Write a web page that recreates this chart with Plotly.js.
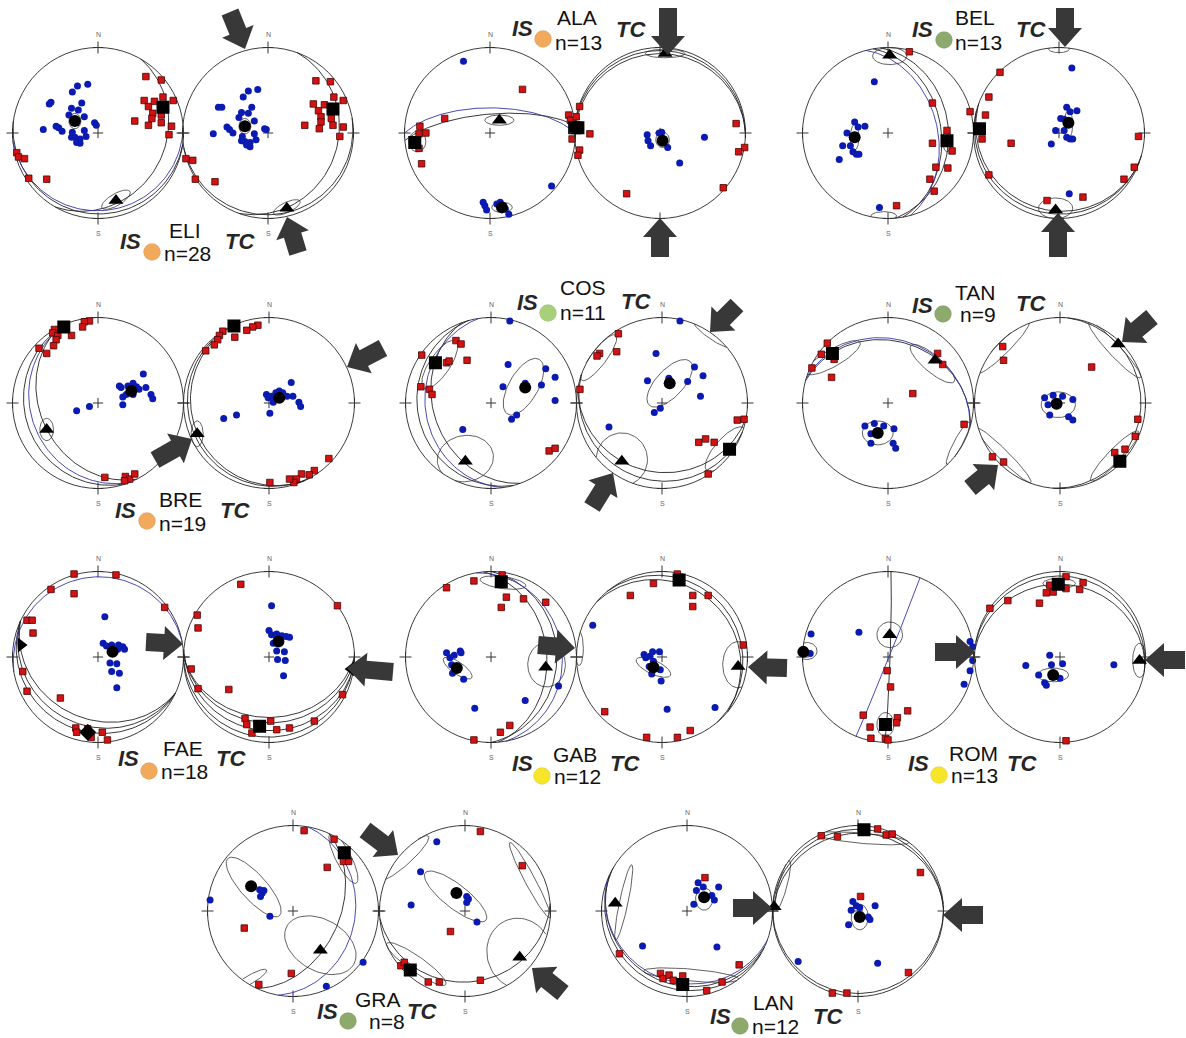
<!DOCTYPE html>
<html><head><meta charset="utf-8">
<script src="https://cdn.plot.ly/plotly-3.0.1.min.js"></script>
<style>html,body{margin:0;padding:0;background:#fff}#chart{width:1186px;height:1038px}</style>
</head><body><div id="chart"></div>
<script>
// ---------------- DATA (normalised stereonet coordinates, x=East, y=North, primitive radius = 1) ----------------
const sites=['ELI','ALA','BEL','BRE','COS','TAN','FAE','GAB','ROM','GRA','LAN'];
const siteN=[28,13,13,19,11,9,18,12,13,8,12];
const siteColor=['#F3A95B','#F3A95B','#8DAA6C','#F3A95B','#A8CF7A','#8DAA6C','#F3A95B','#F7E52A','#F7E52A','#8DAA6C','#8DAA6C'];

// K1 axes (blue dots), K3 axes (red squares), mean axes [kind,x,y], ellipses [x,y,a,b,angle], planes [dipdir,dip,colour]
const ELI_IS_dots=[[-0.12,0.57],[-0.24,0.55],[-0.30,0.48],[-0.55,0.36],[-0.57,0.34],[-0.19,0.35],[-0.23,0.27],[-0.31,0.29],[-0.34,0.21],[-0.16,0.19],[-0.49,0.08],[-0.46,0.06],[-0.42,0.02],[-0.64,0.04],[-0.04,0.12],[-0.02,0.09],[-0.16,0.03],[-0.31,-0.05],[-0.27,-0.05],[-0.21,-0.07],[-0.14,-0.04],[-0.25,-0.11],[-0.21,-0.12],[-0.30,0.01]];
const ELI_IS_squares=[[0.56,0.66],[0.74,0.62],[0.54,0.38],[0.59,0.31],[0.66,0.37],[0.88,0.38],[0.76,0.42],[0.64,0.23],[0.74,0.21],[0.63,0.17],[0.43,0.14],[0.59,0.09],[0.74,0.12],[0.86,0.08],[0.83,-0.02],[-0.95,-0.23],[-0.93,-0.28],[-0.86,-0.30],[-0.81,-0.53],[-0.60,-0.54]];
const ELI_IS_axes=[['c',-0.27,0.14],['s',0.76,0.30],['t',0.21,-0.79]];
const ELI_IS_ellipses=[[-0.27,0.14,0.07,0.09,0],[0.21,-0.78,0.19,0.07,30]];
const ELI_IS_planes=[[120,22,'k'],[175,10,'b'],[188,6,'k']];

const ELI_TC_dots=[[-0.12,0.51],[-0.23,0.49],[-0.29,0.42],[-0.54,0.30],[-0.58,0.30],[-0.19,0.30],[-0.23,0.23],[-0.31,0.24],[-0.34,0.18],[-0.16,0.14],[-0.48,0.07],[-0.45,0.04],[-0.41,0.00],[-0.64,-0.01],[-0.04,0.05],[-0.02,0.04],[-0.16,-0.01],[-0.31,-0.09],[-0.27,-0.10],[-0.21,-0.11],[-0.14,-0.08],[-0.25,-0.14],[-0.21,-0.16],[-0.30,-0.04]];
const ELI_TC_squares=[[0.56,0.61],[0.73,0.60],[0.53,0.34],[0.59,0.26],[0.66,0.33],[0.88,0.38],[0.77,0.42],[0.62,0.19],[0.74,0.17],[0.62,0.13],[0.43,0.09],[0.60,0.05],[0.76,0.09],[0.88,0.07],[0.84,-0.04],[-0.96,-0.30],[-0.88,-0.32],[-0.85,-0.54],[-0.62,-0.57]];
const ELI_TC_axes=[['c',-0.27,0.08],['s',0.76,0.28],['t',0.22,-0.88]];
const ELI_TC_ellipses=[[-0.27,0.08,0.07,0.09,0],[0.22,-0.87,0.17,0.06,25]];
const ELI_TC_planes=[[110,19,'k'],[170,5,'k']];

const ALA_IS_dots=[[-0.31,0.84],[0.72,-0.62],[-0.08,-0.81],[-0.06,-0.85],[-0.04,-0.90],[0.08,-0.83],[0.12,-0.81],[0.18,-0.89],[0.22,-0.95]];
const ALA_IS_squares=[[0.38,0.51],[-0.53,0.17],[-0.82,0.08],[-0.83,-0.01],[-0.75,0.0],[-0.86,-0.09],[-0.83,-0.18],[-0.80,-0.36],[0.92,0.21],[0.96,-0.07],[0.94,0.15]];
const ALA_IS_axes=[['c',0.14,-0.87],['s',-0.88,-0.11],['s',0.99,0.06],['t',0.11,0.15]];
const ALA_IS_ellipses=[[0.14,-0.87,0.12,0.06,0],[-0.85,-0.10,0.10,0.12,0],[0.11,0.15,0.17,0.06,0]];
const ALA_IS_planes=[[355,72,'k'],[0,66,'b']];

const ALA_TC_dots=[[-0.15,-0.02],[-0.14,-0.09],[-0.11,-0.15],[-0.01,0.0],[0.02,0.01],[0.09,-0.17],[0.23,-0.35],[0.52,-0.05]];
const ALA_TC_squares=[[-0.94,0.31],[-0.98,0.19],[-0.94,-0.20],[-0.96,-0.26],[-0.82,-0.01],[0.89,0.11],[0.99,-0.17],[0.92,-0.22],[0.74,-0.64],[-0.39,-0.71]];
const ALA_TC_axes=[['c',0.03,-0.09],['s',-0.96,0.06],['t',0.06,0.93]];
const ALA_TC_ellipses=[[0.03,-0.08,0.08,0.09,0],[0.06,0.93,0.23,0.05,0]];
const ALA_TC_planes=[[0,8,'k'],[3,4,'k']];

const BEL_IS_dots=[[-0.16,0.60],[-0.39,0.13],[-0.35,0.07],[-0.27,0.08],[-0.48,0.0],[-0.53,-0.15],[-0.44,-0.15],[-0.41,-0.22],[-0.37,-0.25],[-0.34,-0.25],[-0.57,-0.31],[-0.10,-0.87]];
const BEL_IS_squares=[[0.25,0.95],[0.52,0.35],[0.69,0.03],[0.52,-0.12],[0.75,-0.21],[0.56,-0.40],[0.70,-0.41],[0.49,-0.54],[0.54,-0.68],[0.10,-0.85],[0.96,0.25]];
const BEL_IS_axes=[['c',-0.39,-0.05],['s',0.69,-0.09],['t',0.02,0.91]];
const BEL_IS_ellipses=[[-0.39,-0.05,0.05,0.15,0],[0.69,-0.09,0.05,0.13,0],[0.02,0.90,0.20,0.10,0],[-0.05,-0.97,0.15,0.05,0]];
const BEL_IS_planes=[[80,38,'k'],[85,30,'k'],[75,42,'b']];

const BEL_TC_dots=[[0.15,0.76],[0.09,0.30],[0.13,0.25],[0.21,0.26],[0.02,0.17],[0.06,0.16],[-0.04,0.03],[0.06,0.03],[0.09,-0.05],[0.13,-0.07],[0.16,-0.07],[-0.09,-0.13],[0.12,-0.71]];
const BEL_TC_squares=[[-0.69,0.71],[-0.82,0.42],[-0.86,0.21],[-0.90,-0.07],[-0.82,-0.49],[-0.56,-0.12],[0.93,-0.04],[0.88,-0.40],[0.76,-0.54],[0.28,-0.75],[-0.14,-0.79]];
const BEL_TC_axes=[['c',0.11,0.12],['s',-0.93,0.05],['t',-0.04,-0.90]];
const BEL_TC_ellipses=[[0.11,0.10,0.05,0.16,0],[-0.04,-0.88,0.20,0.12,0],[0.0,0.98,0.12,0.04,0]];
const BEL_TC_planes=[[200,10,'k'],[195,6,'k']];

const BRE_IS_dots=[[0.53,0.34],[0.25,0.20],[0.27,0.18],[0.35,0.20],[0.41,0.23],[0.45,0.19],[0.48,0.16],[0.56,0.18],[0.33,0.10],[0.29,0.07],[0.41,0.10],[0.62,0.10],[0.64,0.05],[0.29,-0.02],[-0.10,-0.04],[-0.25,-0.09]];
const BRE_IS_squares=[[-0.10,0.96],[-0.16,0.95],[-0.18,0.89],[-0.31,0.79],[-0.51,0.86],[-0.53,0.82],[-0.47,0.79],[-0.49,0.74],[-0.52,0.67],[-0.69,0.64],[-0.60,0.58],[0.08,-0.87],[0.32,-0.86],[0.37,-0.89],[0.43,-0.83],[0.31,-0.91]];
const BRE_IS_axes=[['c',0.39,0.14],['s',-0.40,0.89],['t',-0.60,-0.31]];
const BRE_IS_ellipses=[[0.39,0.14,0.04,0.05,0],[-0.60,-0.31,0.08,0.13,0]];
const BRE_IS_planes=[[243,33,'k'],[248,22,'b'],[250,15,'k']];

const BRE_TC_dots=[[0.26,0.24],[-0.03,0.10],[-0.01,0.06],[0.03,0.08],[0.08,0.12],[0.12,0.14],[0.16,0.12],[0.21,0.08],[0.28,0.08],[0.05,0.01],[0.11,0.04],[0.35,0.01],[0.37,-0.04],[0.01,-0.12],[-0.38,-0.14],[-0.53,-0.18]];
const BRE_TC_squares=[[-0.13,0.91],[-0.19,0.89],[-0.26,0.85],[-0.40,0.77],[-0.54,0.84],[-0.58,0.79],[-0.60,0.74],[-0.64,0.68],[-0.74,0.61],[0.70,-0.65],[0.53,-0.79],[0.47,-0.84],[0.38,-0.83],[0.32,-0.89],[0.29,-0.93],[0.24,-0.89],[0.01,-0.93]];
const BRE_TC_axes=[['c',0.12,0.06],['s',-0.41,0.90],['t',-0.84,-0.36]];
const BRE_TC_ellipses=[[0.12,0.06,0.04,0.05,0],[-0.84,-0.36,0.07,0.15,0]];
const BRE_TC_planes=[[245,10,'k'],[240,6,'k']];

const COS_IS_dots=[[0.22,0.96],[0.20,0.45],[0.14,0.19],[0.64,0.40],[0.75,0.30],[0.59,0.21],[0.75,0.03],[0.24,-0.19],[0.30,-0.14],[-0.33,-0.31],[0.40,0.23]];
const COS_IS_squares=[[-0.81,0.56],[-0.41,0.73],[-0.35,0.69],[-0.52,0.47],[-0.49,0.49],[-0.28,0.50],[-0.82,0.19],[-0.72,0.16],[-0.69,0.10],[0.68,-0.56],[0.75,-0.53]];
const COS_IS_axes=[['c',0.40,0.18],['s',-0.65,0.47],['t',-0.30,-0.68]];
const COS_IS_ellipses=[[0.38,0.19,0.37,0.17,60],[-0.60,0.45,0.33,0.12,56],[-0.30,-0.65,0.33,0.27,10]];
const COS_IS_planes=[[250,33,'k'],[262,24,'b'],[255,15,'k']];

const COS_TC_dots=[[0.21,0.96],[-0.07,0.58],[-0.17,0.26],[0.38,0.42],[0.48,0.32],[0.30,0.25],[0.45,0.08],[-0.02,-0.06],[-0.09,-0.11],[-0.62,-0.28],[0.08,0.29]];
const COS_TC_squares=[[-0.51,0.81],[-0.73,0.58],[-0.76,0.55],[-0.53,0.60],[-0.96,0.16],[0.88,-0.20],[0.96,-0.19],[0.43,-0.46],[0.51,-0.42],[0.61,-0.46],[0.54,-0.83]];
const COS_TC_axes=[['c',0.09,0.23],['s',0.79,-0.54],['t',-0.47,-0.68]];
const COS_TC_ellipses=[[0.09,0.23,0.35,0.16,47],[0.74,-0.54,0.33,0.12,49],[-0.74,0.53,0.33,0.09,53],[-0.47,-0.66,0.30,0.31,0],[0.58,0.80,0.25,0.05,-35]];
const COS_TC_planes=[[190,20,'k'],[200,10,'k']];

const TAN_IS_dots=[[-0.27,-0.27],[-0.16,-0.24],[-0.05,-0.27],[0.07,-0.30],[-0.20,-0.36],[-0.20,-0.47],[0.06,-0.47],[0.09,-0.53]];
const TAN_IS_squares=[[-0.71,0.70],[-0.78,0.57],[-0.63,0.51],[-0.89,0.41],[-0.66,0.30],[0.58,0.58],[0.64,0.45],[0.29,0.11],[0.89,-0.25]];
const TAN_IS_axes=[['c',-0.12,-0.35],['s',-0.65,0.58],['t',0.55,0.50]];
const TAN_IS_ellipses=[[-0.12,-0.35,0.18,0.14,0],[-0.64,0.53,0.36,0.10,30],[0.52,0.46,0.33,0.10,-40],[0.82,-0.47,0.28,0.05,62]];
const TAN_IS_planes=[[15,28,'k'],[17,26,'b']];

const TAN_TC_dots=[[-0.18,0.06],[-0.08,0.09],[0.03,0.08],[0.15,0.04],[-0.14,-0.02],[-0.12,-0.14],[0.10,-0.16],[0.15,-0.20]];
const TAN_TC_squares=[[-0.67,0.66],[-0.66,0.50],[0.37,0.42],[0.91,-0.19],[0.88,-0.39],[0.76,-0.54],[0.64,-0.58],[-0.79,-0.63],[-0.66,-0.69]];
const TAN_TC_axes=[['c',-0.04,-0.01],['s',0.70,-0.68],['t',0.68,0.69]];
const TAN_TC_ellipses=[[-0.02,-0.02,0.20,0.15,0],[0.64,-0.62,0.40,0.08,46],[0.64,0.62,0.44,0.07,-47],[-0.66,0.65,0.42,0.07,45],[-0.66,-0.61,0.45,0.06,-45]];
const TAN_TC_planes=[[95,6,'k']];

const FAE_IS_dots=[[0.08,0.47],[0.06,0.16],[0.10,0.13],[0.16,0.14],[0.24,0.14],[0.29,0.12],[0.31,0.09],[0.23,0.09],[0.14,-0.07],[0.22,-0.08],[0.16,-0.17],[0.25,-0.19],[0.22,-0.36]];
const FAE_IS_squares=[[-0.28,0.97],[0.21,0.96],[-0.55,0.79],[-0.28,0.74],[0.78,0.58],[-0.83,0.43],[-0.77,0.43],[-0.76,0.28],[-0.88,-0.17],[-0.83,-0.40],[-0.44,-0.48],[-0.26,-0.83],[-0.25,-0.88],[-0.12,-0.84],[-0.08,-0.94],[0.05,-0.88],[0.11,-0.97]];
const FAE_IS_axes=[['c',0.17,0.06],['d',-0.12,-0.88],['tr',-0.90,0.14]];
const FAE_IS_ellipses=[[0.17,0.06,0.04,0.05,0]];
const FAE_IS_planes=[[205,28,'k'],[205,20,'k'],[205,13,'k'],[350,7,'b']];

const FAE_TC_dots=[[0.03,0.60],[0.0,0.31],[0.03,0.26],[0.09,0.27],[0.15,0.25],[0.20,0.24],[0.24,0.23],[0.05,0.16],[0.09,0.07],[0.18,0.06],[0.10,-0.03],[0.19,-0.04],[0.17,-0.22]];
const FAE_TC_squares=[[-0.33,0.85],[0.80,0.60],[-0.84,0.49],[-0.83,0.34],[-0.91,-0.14],[-0.83,-0.37],[-0.47,-0.38],[0.86,-0.44],[0.53,-0.75],[-0.28,-0.72],[-0.26,-0.79],[-0.20,-0.89],[0.02,-0.75],[0.09,-0.85],[0.24,-0.83]];
const FAE_TC_axes=[['c',0.11,0.18],['s',-0.11,-0.81],['tl',0.96,-0.14]];
const FAE_TC_ellipses=[[0.11,0.18,0.04,0.05,0]];
const FAE_TC_planes=[[180,30,'k'],[182,24,'k'],[185,15,'k'],[178,7,'k']];

const GAB_IS_dots=[[-0.52,0.05],[-0.48,-0.01],[-0.43,0.02],[-0.36,0.07],[-0.35,0.05],[-0.46,-0.09],[-0.45,-0.19],[-0.32,-0.26],[-0.19,-0.60],[0.40,-0.51],[0.79,-0.34],[-0.39,-0.15]];
const GAB_IS_squares=[[-0.52,0.81],[-0.20,0.89],[0.13,0.96],[0.18,0.70],[0.12,0.58],[0.38,0.68],[0.64,0.64],[0.22,-0.80],[0.11,-0.88],[-0.20,-0.97]];
const GAB_IS_axes=[['c',-0.40,-0.13],['s',0.12,0.88],['t',0.64,-0.12]];
const GAB_IS_ellipses=[[-0.39,-0.13,0.20,0.07,-35],[0.14,0.87,0.27,0.07,-8],[0.65,-0.09,0.22,0.26,0]];
const GAB_IS_planes=[[85,35,'k'],[90,24,'k'],[80,18,'b']];

const GAB_TC_dots=[[-0.81,0.37],[-0.21,0.03],[-0.19,-0.01],[-0.14,0.01],[-0.11,0.06],[-0.03,0.06],[-0.10,-0.05],[-0.15,-0.11],[-0.12,-0.20],[-0.02,-0.15],[-0.01,-0.28],[0.06,-0.61],[0.62,-0.59]];
const GAB_TC_squares=[[-0.10,0.86],[-0.37,0.72],[0.36,0.72],[0.54,0.72],[0.36,0.59],[0.18,0.97],[0.95,0.14],[-0.67,-0.64],[-0.18,-0.94],[0.18,-0.94],[0.33,-0.86]];
const GAB_TC_axes=[['c',-0.10,-0.12],['s',0.20,0.90],['t',0.89,-0.11]];
const GAB_TC_ellipses=[[-0.10,-0.12,0.22,0.08,-25],[0.89,-0.09,0.18,0.27,0],[-0.97,0.10,0.05,0.20,0]];
const GAB_TC_planes=[[40,14,'k'],[50,8,'k']];

const ROM_IS_dots=[[-0.34,0.29],[-0.90,0.27],[-0.91,0.04],[0.96,0.18],[0.99,0.12],[0.99,-0.04],[0.96,-0.16],[0.89,-0.32]];
const ROM_IS_squares=[[-0.01,-0.16],[0.03,-0.35],[-0.29,-0.68],[0.23,-0.63],[-0.21,-0.82],[0.11,-0.71],[0.10,-0.77],[-0.20,-0.95],[-0.03,-0.95],[0.0,-0.97]];
const ROM_IS_axes=[['c',-0.99,0.06],['s',-0.03,-0.79],['t',0.02,0.26]];
const ROM_IS_ellipses=[[-0.95,0.07,0.12,0.10,0],[-0.03,-0.79,0.10,0.14,0],[0.02,0.26,0.15,0.15,0]];
const ROM_IS_planes=[[92,88,'k'],[112,89,'b']];

const ROM_TC_dots=[[-0.12,0.02],[-0.40,-0.10],[-0.10,-0.09],[0.03,-0.08],[-0.25,-0.21],[-0.18,-0.30],[-0.16,-0.33],[-0.08,-0.23],[0.0,-0.25],[0.63,-0.09]];
const ROM_TC_squares=[[0.07,0.94],[0.27,0.87],[0.23,0.79],[0.07,0.80],[-0.08,0.76],[-0.16,0.75],[-0.12,0.84],[-0.24,0.63],[-0.61,0.66],[-0.82,0.57],[0.07,-0.98]];
const ROM_TC_axes=[['c',-0.08,-0.21],['s',-0.02,0.85],['t',0.93,-0.04]];
const ROM_TC_ellipses=[[-0.08,-0.21,0.18,0.08,0],[-0.01,0.86,0.19,0.06,0],[0.93,-0.04,0.08,0.20,0]];
const ROM_TC_planes=[[5,16,'k'],[10,6,'k']];

const GRA_IS_dots=[[-0.97,0.13],[-0.39,0.25],[-0.36,0.21],[-0.34,0.24],[-0.38,0.17],[-0.27,-0.06],[0.82,-0.60],[0.39,-0.88]];
const GRA_IS_squares=[[0.13,0.94],[0.48,0.84],[0.59,0.58],[0.65,0.58],[0.40,0.51],[-0.57,-0.20],[-0.02,-0.73],[-0.40,-0.86]];
const GRA_IS_axes=[['c',-0.49,0.29],['s',0.60,0.68],['t',0.32,-0.46]];
const GRA_IS_ellipses=[[-0.46,0.28,0.45,0.15,-48],[0.59,0.62,0.33,0.09,-63],[0.32,-0.40,0.45,0.30,-30],[-0.50,-0.80,0.22,0.05,30]];
const GRA_IS_planes=[[115,45,'k'],[100,28,'b']];

const GRA_TC_dots=[[-0.33,0.81],[-0.52,0.46],[-0.63,0.07],[0.02,0.17],[0.04,0.14],[0.02,0.10],[0.14,-0.13]];
const GRA_TC_squares=[[0.18,0.93],[0.67,0.53],[-0.17,-0.24],[-0.75,-0.64],[-0.71,-0.60],[-0.43,-0.83],[-0.30,-0.83],[0.18,-0.81]];
const GRA_TC_axes=[['c',-0.10,0.21],['s',-0.64,-0.69],['t',0.64,-0.54]];
const GRA_TC_ellipses=[[-0.11,0.17,0.45,0.14,-38],[-0.57,-0.62,0.42,0.09,-35],[0.64,-0.50,0.38,0.42,20],[-0.71,0.62,0.38,0.08,42],[0.76,0.36,0.50,0.06,-62]];
const GRA_TC_planes=[[175,18,'k']];

const LAN_IS_dots=[[0.13,0.33],[0.19,0.28],[0.11,0.24],[0.37,0.28],[0.29,0.18],[0.32,0.13],[0.08,0.08],[-0.52,-0.41],[0.35,-0.42]];
const LAN_IS_squares=[[0.21,0.39],[-0.79,-0.50],[0.61,-0.63],[-0.31,-0.73],[-0.28,-0.79],[-0.21,-0.75],[-0.16,-0.81],[-0.05,-0.76],[0.41,-0.83],[0.23,-0.93]];
const LAN_IS_axes=[['c',0.20,0.16],['s',-0.05,-0.86],['t',-0.84,0.09]];
const LAN_IS_ellipses=[[0.20,0.14,0.10,0.13,0],[0.05,-0.75,0.56,0.07,-5],[-0.74,0.10,0.45,0.05,78]];
const LAN_IS_planes=[[205,14,'k'],[210,9,'k'],[200,17,'b']];

const LAN_TC_dots=[[-0.06,0.11],[-0.02,0.06],[-0.08,0.01],[0.02,0.04],[0.20,0.06],[0.12,-0.07],[0.14,-0.10],[-0.11,-0.16],[-0.70,-0.59],[0.23,-0.61]];
const LAN_TC_squares=[[0.03,0.17],[-0.43,0.88],[-0.24,0.87],[0.23,0.96],[0.33,0.89],[0.40,0.90],[0.73,0.45],[0.59,-0.72],[-0.30,-0.96],[-0.13,-0.96]];
const LAN_TC_axes=[['c',0.02,-0.07],['s',0.07,0.95],['t',-0.98,0.05]];
const LAN_TC_ellipses=[[0.02,-0.07,0.10,0.15,0],[0.06,0.85,0.54,0.06,-5],[-0.88,0.30,0.30,0.05,75]];
const LAN_TC_planes=[[355,10,'k'],[0,5,'k'],[180,4,'k']];

// ---------------- LAYOUT TABLES (pixel positions) ----------------
const W=1186,H=1038,R=85.5,PAD=1.3;
const nets=[
 {cx:98,cy:133,ns:1,d:ELI_IS_dots,q:ELI_IS_squares,a:ELI_IS_axes,e:ELI_IS_ellipses,g:ELI_IS_planes},
 {cx:268,cy:133,ns:1,d:ELI_TC_dots,q:ELI_TC_squares,a:ELI_TC_axes,e:ELI_TC_ellipses,g:ELI_TC_planes},
 {cx:490,cy:133,ns:1,d:ALA_IS_dots,q:ALA_IS_squares,a:ALA_IS_axes,e:ALA_IS_ellipses,g:ALA_IS_planes},
 {cx:660,cy:133,ns:0,d:ALA_TC_dots,q:ALA_TC_squares,a:ALA_TC_axes,e:ALA_TC_ellipses,g:ALA_TC_planes},
 {cx:888,cy:133,ns:1,d:BEL_IS_dots,q:BEL_IS_squares,a:BEL_IS_axes,e:BEL_IS_ellipses,g:BEL_IS_planes},
 {cx:1059,cy:133,ns:0,d:BEL_TC_dots,q:BEL_TC_squares,a:BEL_TC_axes,e:BEL_TC_ellipses,g:BEL_TC_planes},
 {cx:98,cy:403,ns:1,d:BRE_IS_dots,q:BRE_IS_squares,a:BRE_IS_axes,e:BRE_IS_ellipses,g:BRE_IS_planes},
 {cx:269,cy:403,ns:1,d:BRE_TC_dots,q:BRE_TC_squares,a:BRE_TC_axes,e:BRE_TC_ellipses,g:BRE_TC_planes},
 {cx:491,cy:403,ns:1,d:COS_IS_dots,q:COS_IS_squares,a:COS_IS_axes,e:COS_IS_ellipses,g:COS_IS_planes},
 {cx:662,cy:403,ns:1,d:COS_TC_dots,q:COS_TC_squares,a:COS_TC_axes,e:COS_TC_ellipses,g:COS_TC_planes},
 {cx:888,cy:403,ns:1,d:TAN_IS_dots,q:TAN_IS_squares,a:TAN_IS_axes,e:TAN_IS_ellipses,g:TAN_IS_planes},
 {cx:1060,cy:403,ns:1,d:TAN_TC_dots,q:TAN_TC_squares,a:TAN_TC_axes,e:TAN_TC_ellipses,g:TAN_TC_planes},
 {cx:98,cy:657,ns:1,d:FAE_IS_dots,q:FAE_IS_squares,a:FAE_IS_axes,e:FAE_IS_ellipses,g:FAE_IS_planes},
 {cx:269,cy:657,ns:1,d:FAE_TC_dots,q:FAE_TC_squares,a:FAE_TC_axes,e:FAE_TC_ellipses,g:FAE_TC_planes},
 {cx:491,cy:657,ns:1,d:GAB_IS_dots,q:GAB_IS_squares,a:GAB_IS_axes,e:GAB_IS_ellipses,g:GAB_IS_planes},
 {cx:662,cy:657,ns:1,d:GAB_TC_dots,q:GAB_TC_squares,a:GAB_TC_axes,e:GAB_TC_ellipses,g:GAB_TC_planes},
 {cx:888,cy:657,ns:1,d:ROM_IS_dots,q:ROM_IS_squares,a:ROM_IS_axes,e:ROM_IS_ellipses,g:ROM_IS_planes},
 {cx:1060,cy:657,ns:1,d:ROM_TC_dots,q:ROM_TC_squares,a:ROM_TC_axes,e:ROM_TC_ellipses,g:ROM_TC_planes},
 {cx:293,cy:911,ns:1,d:GRA_IS_dots,q:GRA_IS_squares,a:GRA_IS_axes,e:GRA_IS_ellipses,g:GRA_IS_planes},
 {cx:465,cy:911,ns:1,d:GRA_TC_dots,q:GRA_TC_squares,a:GRA_TC_axes,e:GRA_TC_ellipses,g:GRA_TC_planes},
 {cx:687,cy:911,ns:1,d:LAN_IS_dots,q:LAN_IS_squares,a:LAN_IS_axes,e:LAN_IS_ellipses,g:LAN_IS_planes},
 {cx:858,cy:911,ns:1,d:LAN_TC_dots,q:LAN_TC_squares,a:LAN_TC_axes,e:LAN_TC_ellipses,g:LAN_TC_planes}
];
// label positions per site: IS, name, dot, n (left edge), TC
const labelPos=[
 {is:[130,241],nm:[185,230],dot:[152,252],n:[162,253],tc:[240,241]},
 {is:[522,28],nm:[577,17],dot:[543,39],n:[553,42],tc:[631,29]},
 {is:[922,29],nm:[975,17],dot:[944,40],n:[953,42],tc:[1031,29]},
 {is:[125,510],nm:[180,499],dot:[147,521],n:[157,523],tc:[235,510]},
 {is:[527,302],nm:[583,288],dot:[548,313],n:[558,313],tc:[636,301]},
 {is:[922,305],nm:[975,292],dot:[943,314],n:[958,314],tc:[1031,303]},
 {is:[128,758],nm:[183,748],dot:[149,771],n:[159,771],tc:[231,758]},
 {is:[522,763],nm:[575,754],dot:[542,776],n:[552,776],tc:[625,763]},
 {is:[918,763],nm:[973,753],dot:[939,775],n:[949,775],tc:[1022,763]},
 {is:[327,1011],nm:[378,999],dot:[348,1021],n:[367,1021],tc:[422,1011]},
 {is:[720,1016],nm:[773,1002],dot:[740,1026],n:[750,1026],tc:[828,1016]}
];
// block arrows [tail, tip] in px
const arrows=[
 [[230,12],[245,49]],[[298,253],[287,217]],
 [[668,8],[668,55]],[[660,257],[660,218]],
 [[1065,8],[1065,47]],[[1058,257],[1058,213]],
 [[383,348],[347,367]],[[155,460],[192,439]],
 [[737,305],[710,332]],[[592,507],[613,473]],
 [[1152,317],[1122,342]],[[970,488],[998,465]],
 [[146,642],[183,644]],[[393,672],[347,668]],
 [[538,645],[575,648]],[[787,668],[748,667]],
 [[935,652],[975,652]],[[1185,660],[1145,660]],
 [[365,830],[398,855]],[[563,993],[532,968]],
 [[733,908],[772,908]],[[983,915],[943,915]]
];

// ---------------- HELPERS ----------------
const D2R=Math.PI/180;
function proj(trend,plunge){const r=Math.SQRT2*Math.sin((90-plunge)*D2R/2);return [r*Math.sin(trend*D2R),r*Math.cos(trend*D2R)];}
function planeLine(dd,dip){
  const st=(dd-90)*D2R,ddr=dd*D2R,dp=dip*D2R,xs=[],ys=[];
  for(let i=0;i<=180;i+=2){
    const a=i*D2R;
    const n=Math.cos(a)*Math.cos(st)+Math.sin(a)*Math.cos(ddr)*Math.cos(dp);
    const e=Math.cos(a)*Math.sin(st)+Math.sin(a)*Math.sin(ddr)*Math.cos(dp);
    const dn=Math.sin(a)*Math.sin(dp);
    const p=proj(Math.atan2(e,n)/D2R,Math.asin(Math.min(1,Math.max(0,dn)))/D2R);
    xs.push(p[0]);ys.push(p[1]);
  }
  return [xs,ys];
}
function ellipsePts(cx,cy,a,b,ang){
  const xs=[],ys=[],t=ang*D2R;
  for(let i=0;i<=72;i++){
    const u=i/72*2*Math.PI,x=a*Math.cos(u),y=b*Math.sin(u);
    const X=cx+x*Math.cos(t)-y*Math.sin(t),Y=cy+x*Math.sin(t)+y*Math.cos(t);
    if(Math.hypot(X,Y)>1.005){xs.push(null);ys.push(null);}else{xs.push(X);ys.push(Y);}
  }
  xs.push(null);ys.push(null);
  return [xs,ys];
}
const px2x=p=>p/W, py2y=p=>1-p/H;
function arrowPath(t,p){
  const dx=p[0]-t[0],dy=p[1]-t[1],L=Math.hypot(dx,dy),ux=dx/L,uy=dy/L,nx=-uy,ny=ux;
  const hl=19,sw=9,hw=17,bx=p[0]-ux*hl,by=p[1]-uy*hl;
  const pts=[[t[0]+nx*sw,t[1]+ny*sw],[bx+nx*sw,by+ny*sw],[bx+nx*hw,by+ny*hw],[p[0],p[1]],[bx-nx*hw,by-ny*hw],[bx-nx*sw,by-ny*sw],[t[0]-nx*sw,t[1]-ny*sw]];
  return 'M'+pts.map(q=>px2x(q[0]).toFixed(5)+','+py2y(q[1]).toFixed(5)).join('L')+'Z';
}
const symMap={c:'circle',s:'square',d:'diamond',t:'triangle-up',tr:'triangle-right',tl:'triangle-left'};

// ---------------- BUILD ----------------
const data=[],shapes=[],annotations=[];
const layout={width:W,height:H,margin:{l:0,r:0,t:0,b:0},paper_bgcolor:'#fff',plot_bgcolor:'rgba(0,0,0,0)',showlegend:false,
  font:{family:'Liberation Sans, Arial, sans-serif'}};
const tickPath='M0,0.93L0,1.07M-0.06,1L0.06,1M0,-0.93L0,-1.07M-0.06,-1L0.06,-1M0.93,0L1.07,0M1,-0.06L1,0.06M-0.93,0L-1.07,0M-1,-0.06L-1,0.06M-0.06,0L0.06,0M0,-0.06L0,0.06';

nets.forEach((n,i)=>{
  const k=i+1,s=k===1?'':String(k),xa='x'+s,ya='y'+s,h=PAD*R;
  const L=Math.max(0,n.cx-h),Rr=Math.min(W,n.cx+h),T=Math.max(0,n.cy-h),B=Math.min(H,n.cy+h);
  layout['xaxis'+s]={domain:[L/W,Rr/W],range:[(L-n.cx)/R,(Rr-n.cx)/R],visible:false,fixedrange:true,anchor:ya};
  layout['yaxis'+s]={domain:[1-B/H,1-T/H],range:[(n.cy-B)/R,(n.cy-T)/R],visible:false,fixedrange:true,anchor:xa};
  shapes.push({type:'circle',xref:xa,yref:ya,x0:-1,x1:1,y0:-1,y1:1,line:{color:'#3c3c3c',width:1},layer:'below'});
  shapes.push({type:'path',xref:xa,yref:ya,path:tickPath,line:{color:'#333',width:1},layer:'below'});
  if(n.ns){
    annotations.push({xref:xa,yref:ya,x:0,y:1.15,text:'N',showarrow:false,font:{size:7,color:'#666'}});
    annotations.push({xref:xa,yref:ya,x:0,y:-1.18,text:'S',showarrow:false,font:{size:7,color:'#666'}});
  }
  let ex=[],ey=[];
  n.e.forEach(e=>{const p=ellipsePts(e[0],e[1],e[2],e[3],e[4]);ex=ex.concat(p[0]);ey=ey.concat(p[1]);});
  data.push({type:'scatter',mode:'lines',x:ex,y:ey,xaxis:xa,yaxis:ya,line:{color:'#3a3a3a',width:0.8},hoverinfo:'skip'});
  ['k','b'].forEach(c=>{
    let gx=[],gy=[];
    n.g.filter(g=>g[2]===c).forEach(g=>{const p=planeLine(g[0],g[1]);gx=gx.concat(p[0],[null]);gy=gy.concat(p[1],[null]);});
    if(gx.length)data.push({type:'scatter',mode:'lines',x:gx,y:gy,xaxis:xa,yaxis:ya,line:{color:c==='k'?'#222':'#3535a8',width:0.9},hoverinfo:'skip'});
  });
  data.push({type:'scatter',mode:'markers',x:n.q.map(p=>p[0]),y:n.q.map(p=>p[1]),xaxis:xa,yaxis:ya,
    marker:{symbol:'square',size:6.5,color:'#d21313',opacity:1,line:{color:'#4a0505',width:0.8}},hoverinfo:'skip'});
  data.push({type:'scatter',mode:'markers',x:n.d.map(p=>p[0]),y:n.d.map(p=>p[1]),xaxis:xa,yaxis:ya,
    marker:{symbol:'circle',size:7,color:'#0b1ab0',opacity:1,line:{width:0}},hoverinfo:'skip'});
  data.push({type:'scatter',mode:'markers',x:n.a.map(p=>p[1]),y:n.a.map(p=>p[2]),xaxis:xa,yaxis:ya,
    marker:{symbol:n.a.map(p=>symMap[p[0]]),size:n.a.map(p=>p[0]==='c'?12:13),color:'#000',opacity:1,line:{width:0}},hoverinfo:'skip'});
});

sites.forEach((name,i)=>{
  const lp=labelPos[i];
  annotations.push({xref:'paper',yref:'paper',x:px2x(lp.is[0]),y:py2y(lp.is[1]),text:'<b><i>IS</i></b>',showarrow:false,xanchor:'center',yanchor:'middle',font:{size:22,color:'#262626'}});
  annotations.push({xref:'paper',yref:'paper',x:px2x(lp.tc[0]),y:py2y(lp.tc[1]),text:'<b><i>TC</i></b>',showarrow:false,xanchor:'center',yanchor:'middle',font:{size:22,color:'#262626'}});
  annotations.push({xref:'paper',yref:'paper',x:px2x(lp.nm[0]),y:py2y(lp.nm[1]),text:name,showarrow:false,xanchor:'center',yanchor:'middle',font:{size:21,color:'#111'}});
  annotations.push({xref:'paper',yref:'paper',x:px2x(lp.n[0]),y:py2y(lp.n[1]),text:'n='+siteN[i],showarrow:false,xanchor:'left',yanchor:'middle',font:{size:21,color:'#111'}});
  const r=8.5;
  shapes.push({type:'circle',xref:'paper',yref:'paper',x0:px2x(lp.dot[0]-r),x1:px2x(lp.dot[0]+r),y0:py2y(lp.dot[1]+r),y1:py2y(lp.dot[1]-r),fillcolor:siteColor[i],line:{color:'rgba(0,0,0,0.15)',width:0.5}});
});
arrows.forEach(a=>shapes.push({type:'path',xref:'paper',yref:'paper',path:arrowPath(a[0],a[1]),fillcolor:'#383838',line:{width:0}}));

layout.shapes=shapes;layout.annotations=annotations;
Plotly.newPlot('chart',data,layout,{displayModeBar:false,staticPlot:true});
</script></body></html>
